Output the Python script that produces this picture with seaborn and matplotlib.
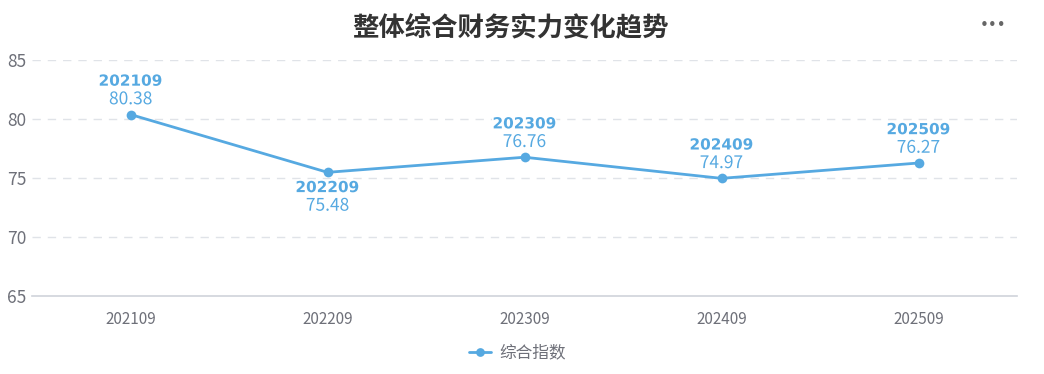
import matplotlib
matplotlib.use("Agg")
import matplotlib.pyplot as plt
import matplotlib.patheffects as pe
import seaborn as sns
import pandas as pd
import numpy as np

periods = ["202109", "202209", "202309", "202409", "202509"]
values = [80.38, 75.48, 76.76, 74.97, 76.27]
label_below = [False, True, False, False, False]
series_name = "综合指数"
title = "整体综合财务实力变化趋势"
y_ticks = [65, 70, 75, 80, 85]

sns.set_theme(style="white")
plt.rcParams['font.family'] = ['Noto Sans CJK SC', 'DejaVu Sans']

color = "#56a9e1"
df = pd.DataFrame({"pos": np.arange(len(periods)), "value": values, "series": series_name})

fig = plt.figure(figsize=(10.44, 3.74), dpi=100)
ax = fig.add_axes([32/1044, 1-296/374, (1017-32)/1044, (296-60)/374])

sns.lineplot(data=df, x="pos", y="value", ax=ax, color=color, linewidth=2,
             marker="o", markersize=7, markeredgewidth=0, label=series_name)

ax.set_xlim(-0.5, len(periods) - 0.5)
ax.set_ylim(65, 85)
ax.set_yticks(y_ticks)
ax.set_yticklabels([str(t) for t in y_ticks], color="#6e7079", fontsize=12.5)
ax.set_xticks(np.arange(len(periods)))
ax.set_xticklabels(periods, color="#6e7079", fontsize=11)
ax.set_xticks(np.arange(len(periods) + 1) - 0.5, minor=True)
ax.tick_params(axis="x", which="major", length=0, pad=11)
ax.tick_params(axis="x", which="minor", length=4, color="#d0d3da", width=1)
ax.tick_params(axis="y", length=0, pad=4)
ax.set_xlabel("")
ax.set_ylabel("")

for y in y_ticks[1:]:
    ax.axhline(y, color="#e0e3e8", linewidth=1, linestyle=(0, (6, 5)), zorder=0)

for s in ["top", "right", "left"]:
    ax.spines[s].set_visible(False)
ax.spines["bottom"].set_color("#cfd3da")
ax.spines["bottom"].set_linewidth(1.2)

outline2 = [pe.withStroke(linewidth=2.5, foreground="white")]
for i, (p, v, below) in enumerate(zip(periods, values, label_below)):
    o1, o2 = (-11, -24) if below else (24, 11)
    ax.annotate(p, (i, v), xytext=(0, o1), textcoords="offset points", ha="center", va="center",
                fontsize=11, fontweight="bold", color=color, family="DejaVu Sans", path_effects=outline2)
    ax.annotate(f"{v:.2f}", (i, v), xytext=(0, o2), textcoords="offset points", ha="center", va="center",
                fontsize=12.5, color=color, path_effects=outline2)

fig.text(510/1044, 1-28/374, title, ha="center", va="center", fontsize=19, fontweight="bold", color="#333333")
fig.text(993/1044, 1-25/374, "•••", ha="center", va="center", fontsize=11, color="#666666",
         family="DejaVu Sans")

leg = ax.legend(loc="center", bbox_to_anchor=(0.5 - 7/985, (296-353)/236), frameon=False, fontsize=12,
                handlelength=1.3, handletextpad=0.5, markerscale=0.9)
for t in leg.get_texts():
    t.set_color("#6e7079")

fig.savefig("out.png", dpi=100, facecolor="white")
